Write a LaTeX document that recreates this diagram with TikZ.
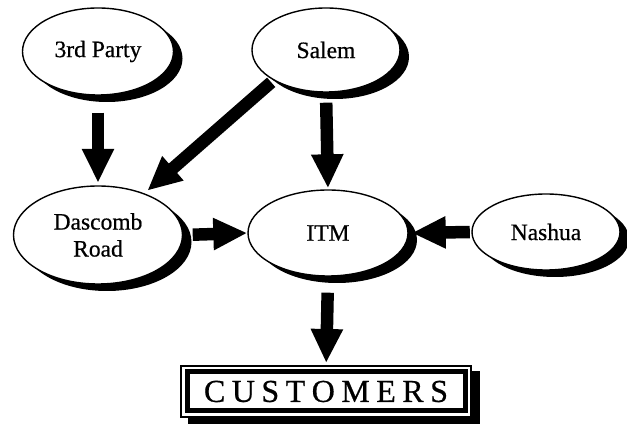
\documentclass[tikz,border=0pt]{standalone}
\usepackage{fontspec}
\setmainfont{Liberation Serif}
\newfontfamily\inkfont[FakeBold=0.6]{Liberation Serif}
\usetikzlibrary{shapes.geometric,arrows.meta,shadows,backgrounds}
\begin{document}
\begin{tikzpicture}[x=1pt,y=-1pt,
  site/.style={ellipse, draw, line width=1.4pt, fill=white, inner sep=0pt,
    font=\inkfont\fontsize{23.5}{27}\selectfont, align=center,
    drop shadow={shadow xshift=9pt, shadow yshift=-7pt, fill=black, opacity=1}},
  flow/.style={line width=12.5pt, -{Triangle[width=30pt,length=34pt]}},
  endbox/.style={rectangle, draw, line width=5pt, fill=white, inner sep=0pt,
    outer sep=0pt, minimum width=278pt, minimum height=39pt,
    font=\inkfont\fontsize{32}{36}\selectfont},
]
\useasboundingbox (0,0) rectangle (627,443);

% sites
\node[site, minimum width=151pt, minimum height=87pt] (third) at (98,51.5) {3rd Party};
\node[site, minimum width=148pt, minimum height=84pt] (salem) at (326,50) {Salem};
\node[site, minimum width=169pt, minimum height=98pt] (dascomb) at (98,235) {Dascomb\\Road};
\node[site, minimum width=160pt, minimum height=86pt] (itm) at (328,233) {ITM};
\node[site, minimum width=148pt, minimum height=76pt] (nashua) at (546,232) {Nashua};

% customers box with its outer frame and shadow
\node[endbox] (cust) at (326,391.5)
  {C\hspace{6.5pt}U\hspace{6.5pt}S\hspace{6.5pt}T\hspace{6.5pt}O\hspace{6.5pt}M\hspace{6.5pt}E\hspace{6.5pt}R\hspace{6.5pt}S};
\draw[line width=2pt] ([shift={(-6,-6)}]cust.north west) rectangle ([shift={(6,6)}]cust.south east);
\begin{scope}[on background layer]
  \fill[white] (0,0) rectangle (627,443);
  \fill[black] ([shift={(1,-1)}]cust.north west) rectangle ([shift={(15,13)}]cust.south east);
  \fill[white] ([shift={(-7,-7)}]cust.north west) rectangle ([shift={(7,7)}]cust.south east);
\end{scope}

% flows
\draw[flow, shorten <=17pt, shorten >=2.5pt] (third.south) -- (dascomb.north);
\draw[flow, shorten <=3pt, shorten >=4pt] (salem.210.5) -- (dascomb.42);
\draw[flow, shorten <=10pt, shorten >=1pt] (salem.south) -- (itm.north);
\draw[flow, shorten <=9.5pt] (dascomb.east) -- (itm.west);
\draw[flow, shorten <=1.5pt, shorten >=3pt] (nashua.west) -- (itm.east);
\draw[flow, shorten <=16pt, shorten >=9pt] (itm.south) -- (cust.north);
\end{tikzpicture}
\end{document}
